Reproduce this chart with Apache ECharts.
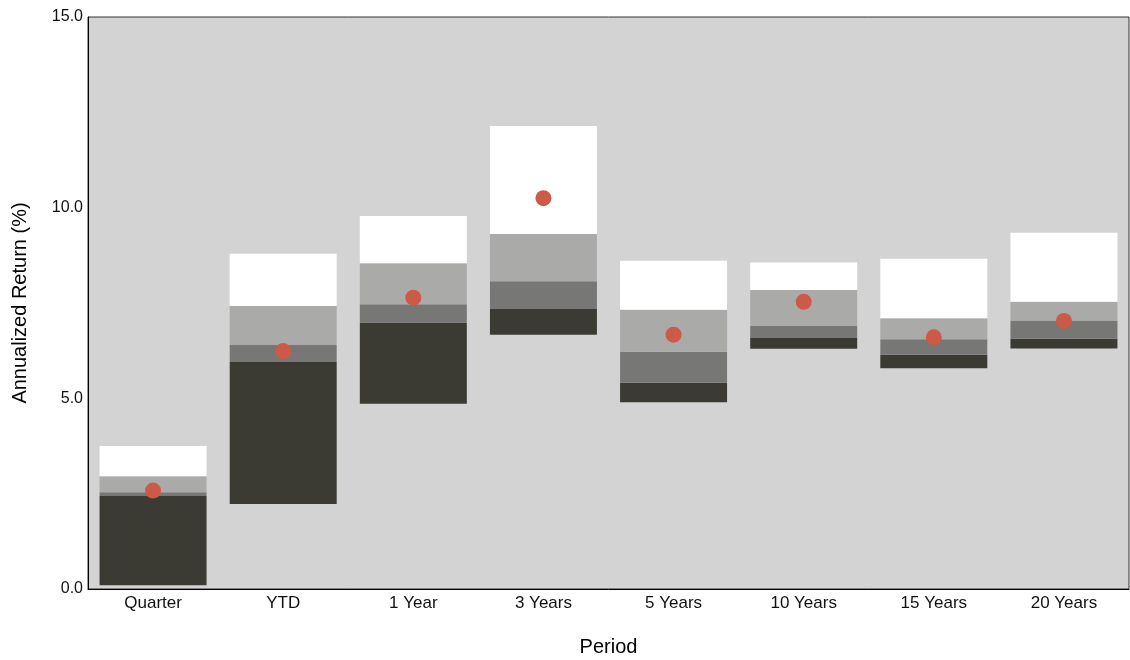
<!DOCTYPE html>
<html>
<head>
<meta charset="utf-8">
<script src="https://cdn.jsdelivr.net/npm/echarts@6/dist/echarts.min.js"></script>
<style>html,body{margin:0;padding:0;background:#fff}#c{width:1130px;height:660px}</style>
</head>
<body>
<div id="c"></div>
<script>
const categories = ['Quarter','YTD','1 Year','3 Years','5 Years','10 Years','15 Years','20 Years'];
// percentile boundaries (top to bottom)
const p5  = [3.75, 8.79, 9.78, 12.14, 8.61, 8.56, 8.66, 9.34];
const p25 = [2.96, 7.42, 8.54, 9.31, 7.32, 7.84, 7.10, 7.53];
const p50 = [2.54, 6.40, 7.47, 8.07, 6.22, 6.90, 6.55, 7.04];
const p75 = [2.44, 5.95, 6.99, 7.34, 5.41, 6.58, 6.14, 6.56];
const p95 = [0.10, 2.23, 4.86, 6.67, 4.90, 6.30, 5.79, 6.31];
const portfolio = [2.58, 6.24, 7.64, 10.25, 6.67, 7.53, 6.60, 7.03];
const yTicks = [0, 5, 10, 15];

const diff = (a, b) => a.map((v, i) => +(v - b[i]).toFixed(3));
const font = 'Liberation Sans, Arial, sans-serif';
const bw = 107;
const seg = (name, data, color) => ({
  name, type: 'bar', stack: 'r', data, barWidth: bw,
  itemStyle: { color }, emphasis: { disabled: true }, silent: true
});

const chart = echarts.init(document.getElementById('c'), null, { renderer: 'canvas' });
chart.setOption({
  animation: false,
  grid: { left: 88, right: 1, top: 17, bottom: 71, outerBoundsMode: 'none', containLabel: false,
    show: true, backgroundColor: '#d3d3d3', borderColor: '#333', borderWidth: 1 },
  xAxis: {
    type: 'category', data: categories,
    name: 'Period', nameLocation: 'middle', nameGap: 48,
    nameTextStyle: { fontFamily: font, fontSize: 20, color: '#000' },
    axisLine: { lineStyle: { color: '#000' } },
    axisTick: { show: false },
    axisLabel: { fontFamily: font, fontSize: 17, color: '#111', margin: 6 }
  },
  yAxis: {
    type: 'value', min: 0, max: 15, interval: 5,
    name: 'Annualized Return (%)', nameLocation: 'middle', nameGap: 58,
    nameTextStyle: { fontFamily: font, fontSize: 20, color: '#000' },
    axisLine: { show: true, lineStyle: { color: '#000' } },
    axisTick: { show: false },
    splitLine: { show: false },
    axisLabel: { fontFamily: font, fontSize: 16, color: '#111', margin: 5,
      formatter: v => yTicks.includes(v) ? v.toFixed(1) : '' }
  },
  series: [
    { name: 'base', type: 'bar', stack: 'r', data: p95, barWidth: bw, itemStyle: { color: 'transparent' }, silent: true },
    seg('75-95', diff(p75, p95), '#3b3b34'),
    seg('50-75', diff(p50, p75), '#777775'),
    seg('25-50', diff(p25, p50), '#aaaaa8'),
    seg('5-25', diff(p5, p25), '#ffffff'),
    { name: 'Portfolio', type: 'scatter', data: portfolio, symbolSize: 16, itemStyle: { color: '#cd5a48', opacity: 1 }, z: 5 }
  ]
});
</script>
</body>
</html>
